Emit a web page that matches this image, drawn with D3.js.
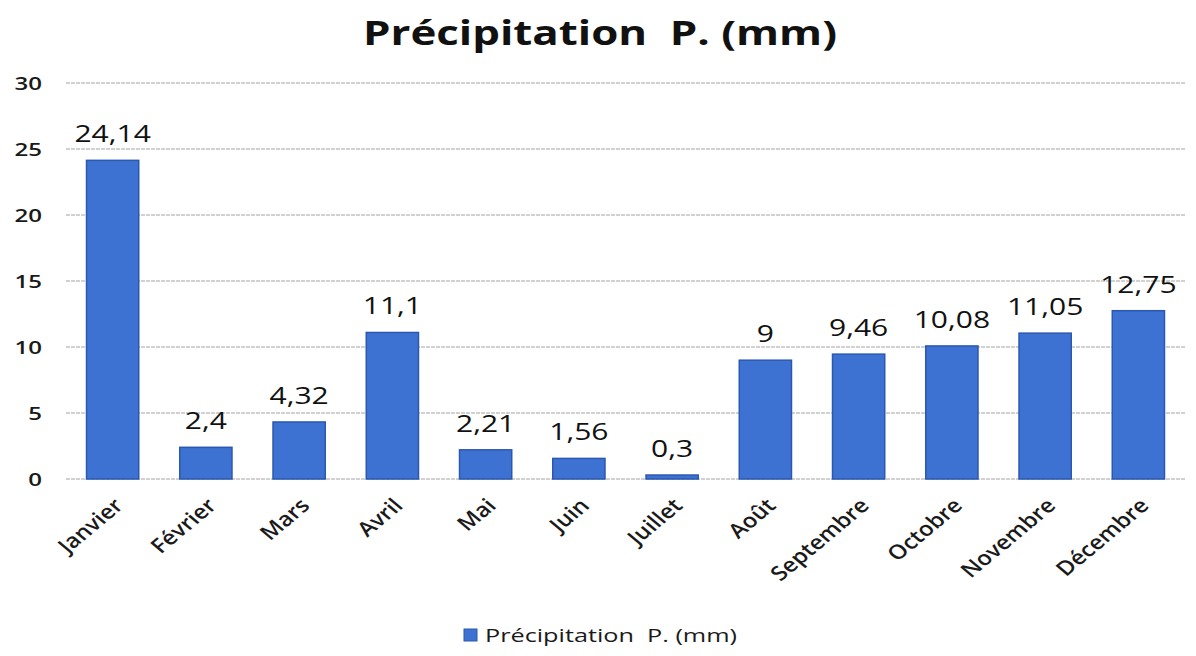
<!DOCTYPE html>
<html><head><meta charset="utf-8">
<script src="https://cdn.jsdelivr.net/npm/d3@7"></script>
<style>body{margin:0;background:#fff}svg{display:block}</style>
</head><body><svg id="c" width="1196" height="656"></svg>
<script>
const months = ["Janvier","Février","Mars","Avril","Mai","Juin","Juillet","Août","Septembre","Octobre","Novembre","Décembre"];
const precip = [24.14, 2.4, 4.32, 11.1, 2.21, 1.56, 0.3, 9, 9.46, 10.08, 11.05, 12.75];
const yTicks = [0, 5, 10, 15, 20, 25, 30];
const title = "Précipitation  P. (mm)";
const seriesName = "Précipitation  P. (mm)";

const svg = d3.select("#c");
const font = "'Open Sans', sans-serif";
const x = d3.scaleBand().domain(months).range([66, 1185]).paddingInner(0.44).paddingOuter(0.22);
const y = d3.scaleLinear().domain([0, 30]).range([479, 83]);
const fmt = v => String(v).replace(".", ",");

// gridlines
svg.append("g").selectAll("line").data(yTicks).join("line")
  .attr("x1", 66).attr("x2", 1185)
  .attr("y1", d => y(d)).attr("y2", d => y(d))
  .attr("stroke", "#c2c2c2").attr("stroke-width", 1.3).attr("stroke-dasharray", "4,1");

// y axis labels
const yAxis = d3.axisLeft(y).tickValues(yTicks).tickSize(0).tickPadding(0);
const gy = svg.append("g").attr("transform", "translate(42,0)").call(yAxis);
gy.select(".domain").remove();
gy.selectAll(".tick text").attr("x", null).attr("dy", "0.36em")
  .attr("transform", "scale(1.3,1)")
  .attr("font-family", font).attr("font-size", 18.5).attr("font-weight", 600).attr("fill", "#1a1a1a");

// bars
svg.append("g").selectAll("rect").data(precip).join("rect")
  .attr("x", (d, i) => x(months[i])).attr("width", x.bandwidth())
  .attr("y", d => y(d)).attr("height", d => y(0) - y(d))
  .attr("fill", "#3d72d2").attr("stroke", "#2b58b0").attr("stroke-width", 1.5);

// value labels
svg.append("g").selectAll("text").data(precip).join("text")
  .attr("transform", (d, i) => `translate(${x(months[i]) + x.bandwidth() / 2},${y(d) - 18}) scale(1.25,1)`)
  .attr("text-anchor", "middle")
  .attr("font-family", font).attr("font-size", 24).attr("fill", "#111")
  .text(d => fmt(d));

// x axis labels
const xAxis = d3.axisBottom(x).tickSize(0).tickPadding(0);
const gx = svg.append("g").attr("transform", "translate(0,500)").call(xAxis);
gx.select(".domain").remove();
gx.selectAll(".tick text")
  .attr("y", null).attr("dy", "0.35em")
  .attr("font-family", font).attr("font-size", 20).attr("font-weight", 600).attr("fill", "#1a1a1a")
  .attr("text-anchor", "end")
  .attr("transform", "translate(6,2) scale(1.2,1) rotate(-45)");

// title
svg.append("text").attr("x", 363).attr("y", 45)
  .attr("textLength", 474).attr("lengthAdjust", "spacingAndGlyphs")
  .attr("xml:space", "preserve")
  .attr("font-family", font).attr("font-size", 34).attr("font-weight", 700).attr("fill", "#111")
  .text(title);

// legend
svg.append("rect").attr("x", 464).attr("y", 629).attr("width", 13).attr("height", 12)
  .attr("fill", "#3d72d2").attr("stroke", "#2b58b0");
svg.append("text").attr("x", 485).attr("y", 642)
  .attr("textLength", 252).attr("lengthAdjust", "spacingAndGlyphs")
  .attr("xml:space", "preserve")
  .attr("font-family", font).attr("font-size", 19).attr("fill", "#1a1a1a")
  .text(seriesName);
</script></body></html>
